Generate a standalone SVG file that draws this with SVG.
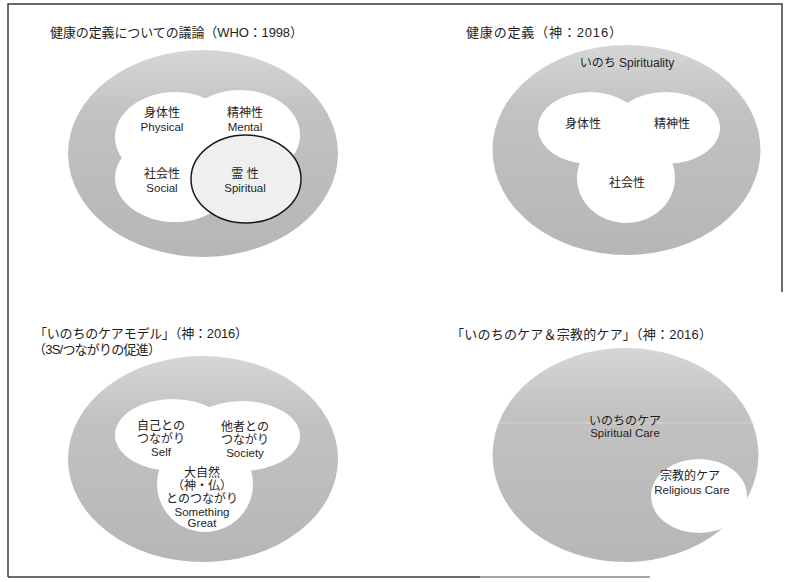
<svg xmlns="http://www.w3.org/2000/svg" width="788" height="582" viewBox="0 0 788 582">
<defs>
  <linearGradient id="g" x1="0" y1="0" x2="0" y2="1">
    <stop offset="0" stop-color="#d6d6d6"/>
    <stop offset="0.3" stop-color="#c2c2c2"/>
    <stop offset="1" stop-color="#b6b6b6"/>
  </linearGradient>
  <clipPath id="c4"><ellipse cx="625.5" cy="455" rx="133" ry="107"/></clipPath>
  <style>
    .outer{fill:url(#g)}
    .w{fill:#ffffff}
    .sp{fill:#efefef;stroke:#1a1a1a;stroke-width:1.5}
    .t{font-family:'Liberation Sans','Noto Sans CJK JP',sans-serif;font-size:12px;fill:#1e1e1e;text-anchor:middle}
    .l{font-size:11.5px}
    .title{font-family:'Liberation Sans','Noto Sans CJK JP',sans-serif;font-size:13px;fill:#1e1e1e}
    .frame{fill:none;stroke:#3a3a3a;stroke-width:1.5}
    .scan{stroke:#d6d6d6;stroke-width:2;opacity:0.45}
  </style>
</defs>
<rect width="788" height="582" fill="#ffffff"/>
<g id="frame">
  <path class="frame" d="M8,577 V4 H782 V292"/>
  <path class="frame" d="M8,577 H480"/>
  <path d="M480,577 H650" fill="none" stroke="#8a8a8a" stroke-width="1.5"/>
</g>

<g id="panel1">
  <text class="title" x="50" y="37" textLength="253" lengthAdjust="spacing">健康の定義についての議論（WHO：1998）</text>
  <ellipse class="outer" cx="203" cy="153.5" rx="135" ry="103.5"/>
  <g id="p1-physical"><ellipse class="w" cx="175" cy="137" rx="60" ry="45"/></g>
  <g id="p1-mental"><ellipse class="w" cx="240" cy="135" rx="60" ry="45"/></g>
  <g id="p1-social"><ellipse class="w" cx="175" cy="178" rx="60" ry="44"/></g>
  <g id="p1-spiritual"><ellipse class="sp" cx="246" cy="179" rx="55" ry="44"/></g>
  <text class="t" x="162" y="116.5">身体性</text>
  <text class="t l" x="162" y="131">Physical</text>
  <text class="t" x="245" y="116.5">精神性</text>
  <text class="t l" x="245" y="131">Mental</text>
  <text class="t" x="162" y="177.5">社会性</text>
  <text class="t l" x="162" y="192">Social</text>
  <text class="t" x="245" y="177.5">霊 性</text>
  <text class="t l" x="245" y="192">Spiritual</text>
</g>

<g id="panel2">
  <text class="title" x="466" y="37" textLength="156" lengthAdjust="spacing">健康の定義（神：2016）</text>
  <ellipse class="outer" cx="626.5" cy="150" rx="134" ry="105"/>
  <text class="t" x="627" y="67">いのち Spirituality</text>
  <g id="p2-physical"><ellipse class="w" cx="590" cy="128" rx="52" ry="36"/></g>
  <g id="p2-mental"><ellipse class="w" cx="666" cy="128" rx="54" ry="36"/></g>
  <g id="p2-social"><ellipse class="w" cx="626" cy="178" rx="49" ry="45"/></g>
  <text class="t" x="583" y="127.5">身体性</text>
  <text class="t" x="672" y="127.5">精神性</text>
  <text class="t" x="627" y="186.5">社会性</text>
</g>

<g id="panel3">
  <text class="title" x="34" y="338" textLength="214" lengthAdjust="spacing">「いのちのケアモデル」（神：2016）</text>
  <text class="title" x="33" y="354" textLength="128" lengthAdjust="spacing">（3S/つながりの促進）</text>
  <ellipse class="outer" cx="203" cy="459" rx="135" ry="103"/>
  <g id="p3-self"><ellipse class="w" cx="173" cy="435" rx="58" ry="36"/></g>
  <g id="p3-society"><ellipse class="w" cx="242" cy="436" rx="58" ry="35"/></g>
  <g id="p3-great"><ellipse class="w" cx="205" cy="484" rx="48" ry="48"/></g>
  <text class="t" x="161" y="429.5">自己との</text>
  <text class="t" x="161" y="442.5">つながり</text>
  <text class="t l" x="161" y="456">Self</text>
  <text class="t" x="245" y="430.5">他者との</text>
  <text class="t" x="245" y="443.5">つながり</text>
  <text class="t l" x="245" y="457">Society</text>
  <text class="t" x="202" y="476.5">大自然</text>
  <text class="t" x="202" y="489.5">（神・仏）</text>
  <text class="t" x="202" y="502.5">とのつながり</text>
  <text class="t l" x="202" y="516">Something</text>
  <text class="t l" x="202" y="527">Great</text>
</g>

<g id="panel4">
  <text class="title" x="451" y="339" textLength="261" lengthAdjust="spacing">「いのちのケア＆宗教的ケア」（神：2016）</text>
  <ellipse class="outer" cx="625.5" cy="455" rx="133" ry="107"/>
  <g clip-path="url(#c4)">
    <line class="scan" x1="490" y1="385" x2="760" y2="385"/>
    <line class="scan" x1="490" y1="423" x2="760" y2="423"/>
  </g>
  <text class="t" x="625" y="424.5" fill="#333">いのちのケア</text>
  <text class="t l" x="625" y="437">Spiritual Care</text>
  <g id="p4-religious"><ellipse class="w" cx="699" cy="496" rx="48" ry="37"/></g>
  <text class="t" x="690" y="479.5">宗教的ケア</text>
  <text class="t l" x="692" y="494">Religious Care</text>
</g>
</svg>
